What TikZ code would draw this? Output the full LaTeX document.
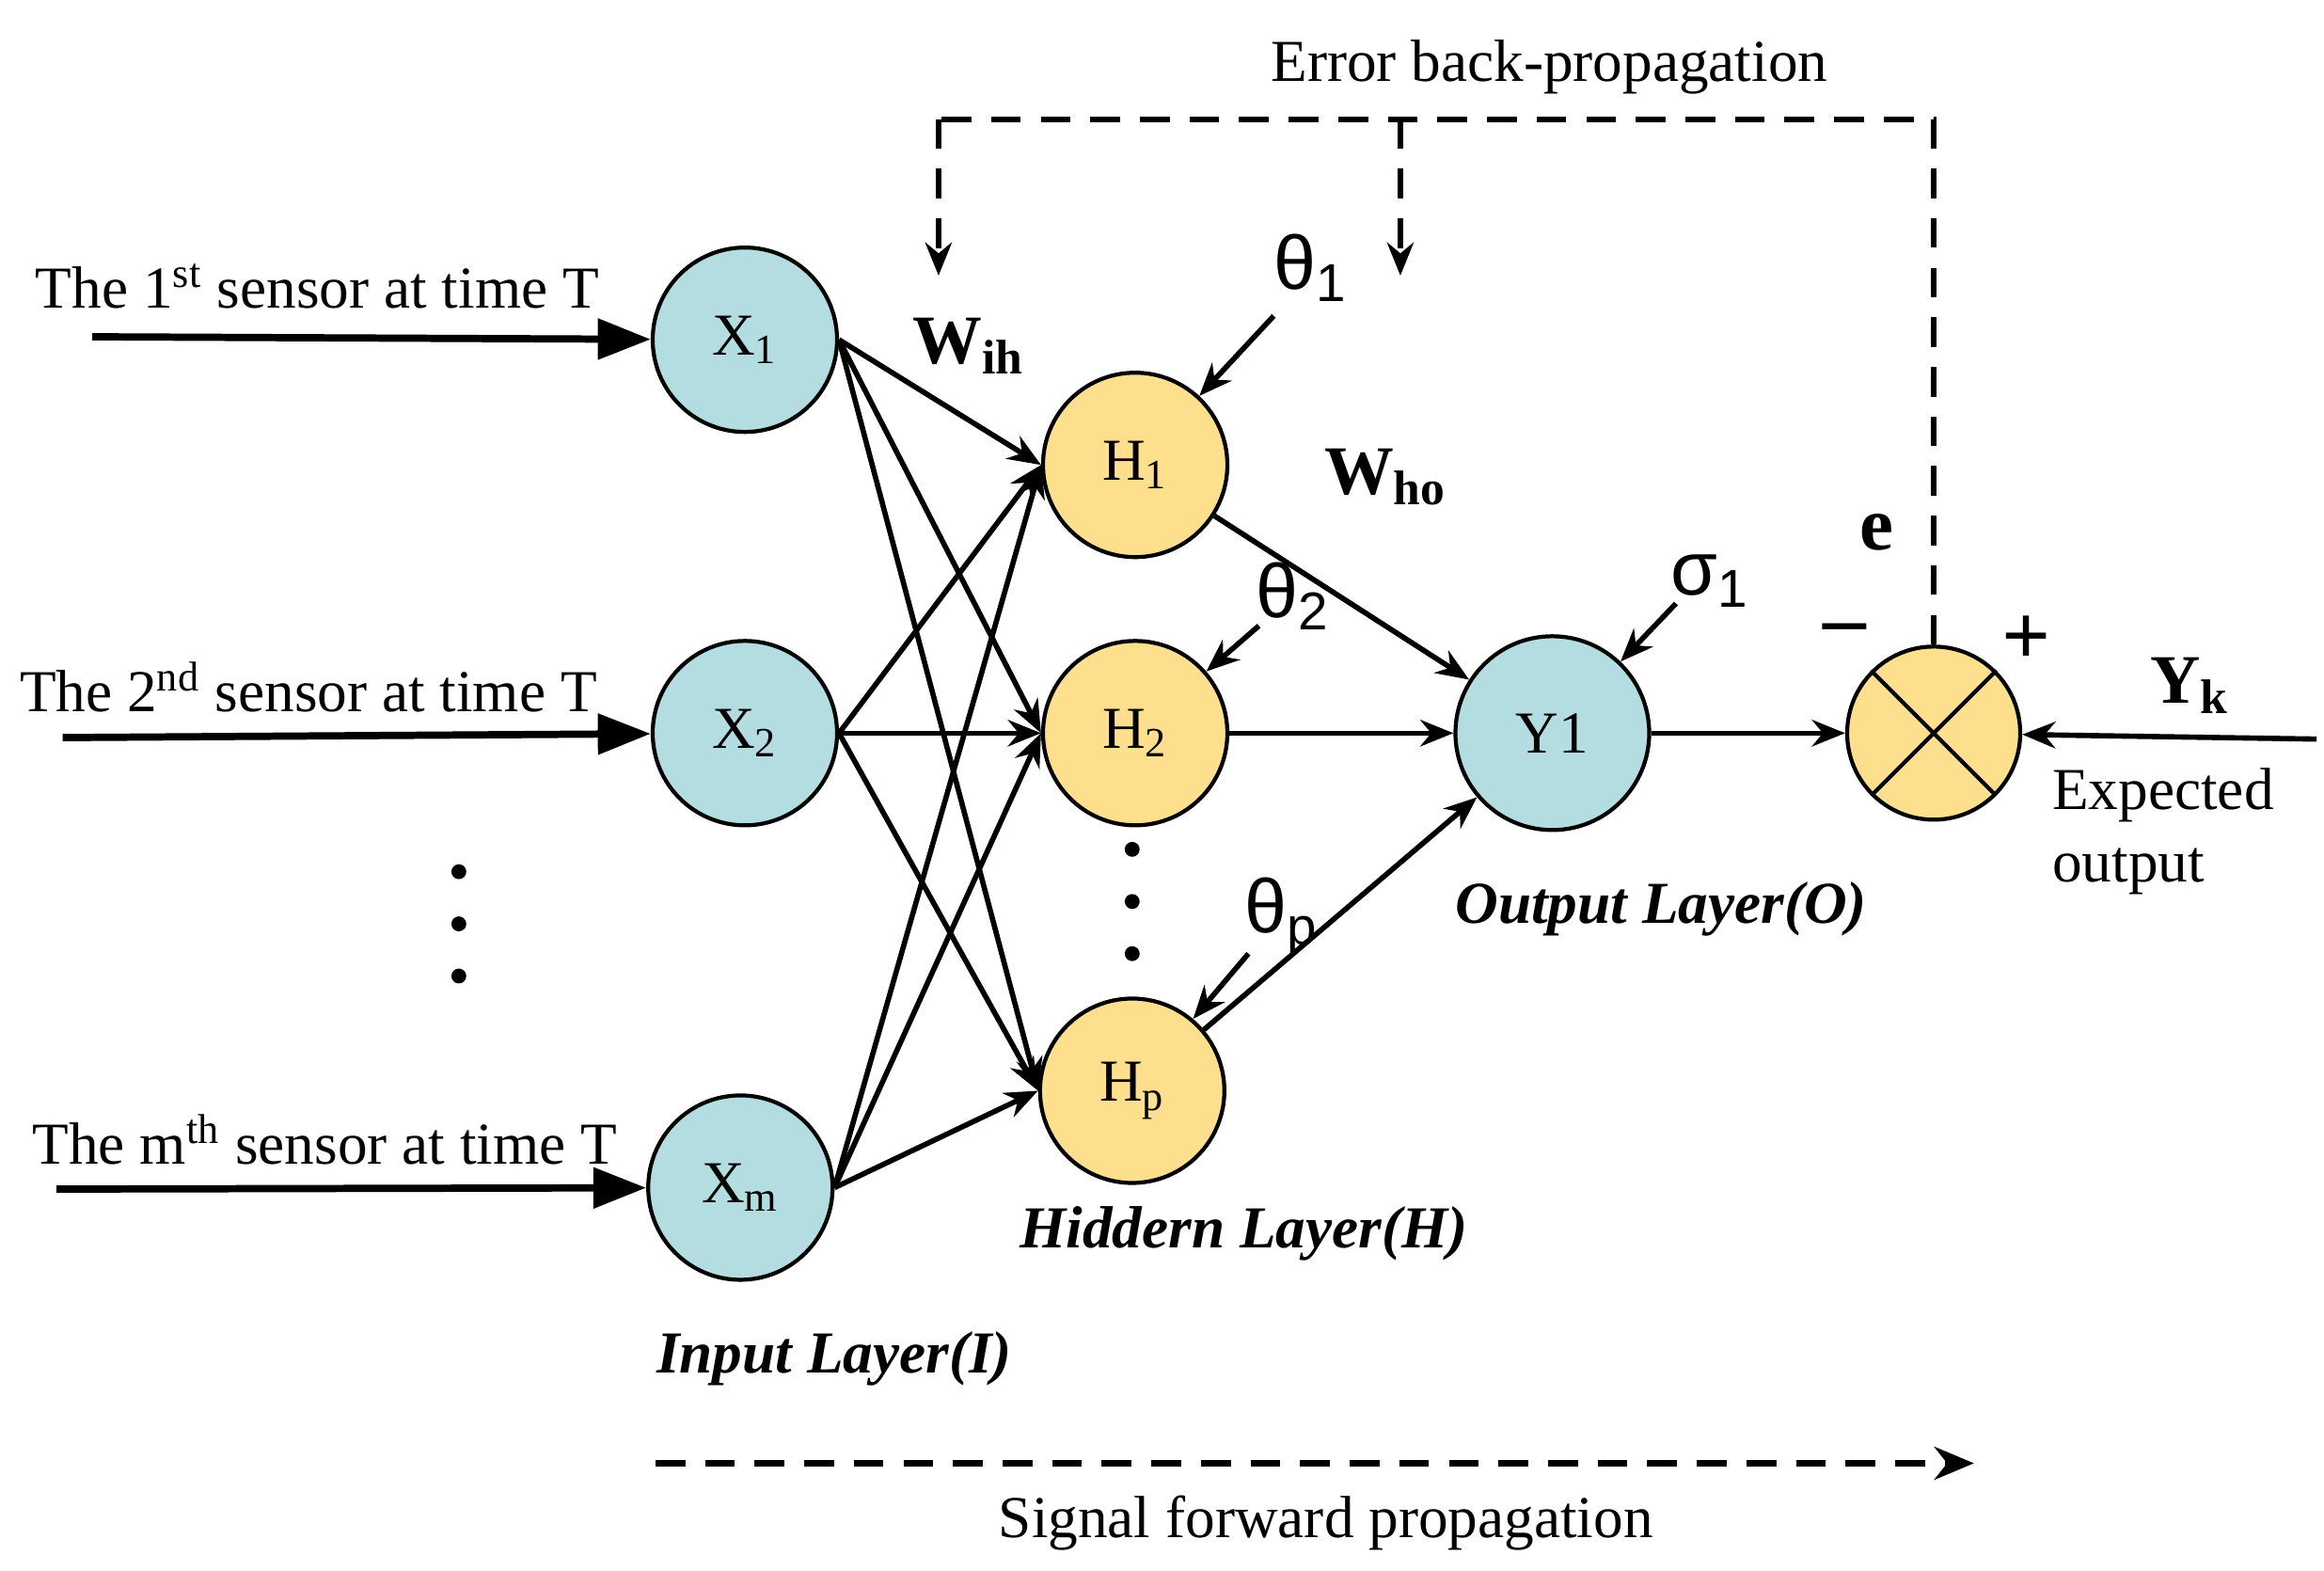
\documentclass[tikz,border=0pt]{standalone}
\usepackage{fontspec}
\setmainfont{Liberation Serif}
\newfontfamily\sansf{Liberation Sans}
\usetikzlibrary{arrows.meta}
\definecolor{cin}{HTML}{B3DDE0}
\definecolor{chid}{HTML}{FDDF8E}
\begin{document}
\begin{tikzpicture}[x=0.01584cm,y=-0.01584cm,
  every node/.style={font=\fontsize{18}{22}\selectfont},
  neu/.style={circle,draw,line width=1.2pt,minimum size=1.96cm,inner sep=0pt},
  inn/.style={neu,fill=cin},
  hid/.style={neu,fill=chid},
  arr/.style={line width=1.6pt,-{Stealth[length=10pt,width=8pt]}},
  big/.style={line width=2.2pt,-{Triangle[length=16pt,width=12pt]}},
  dsh/.style={line width=1.8pt,dash pattern=on 9pt off 6pt},
  lay/.style={font=\fontsize{18}{22}\selectfont\bfseries\itshape},
  gr/.style={font=\fontsize{23}{27}\sansf}]
\useasboundingbox (0,0) rectangle (1560,1054);
\node[inn] (x1) at (500,228) {X\textsubscript{1}};
\node[inn] (x2) at (500,492) {X\textsubscript{2}};
\node[inn] (xm) at (497,797) {X\textsubscript{m}};
\node[hid] (h1) at (762,312) {H\textsubscript{1}};
\node[hid] (h2) at (762,492) {H\textsubscript{2}};
\node[hid] (hp) at (760,732) {H\textsubscript{p}};
\node[inn,minimum size=2.06cm] (y) at (1042,492) {Y1};
\node[hid,minimum size=1.84cm] (s) at (1298,492) {};
\draw[line width=1.2pt] (s.45)--(s.225) (s.135)--(s.315);
% inputs
\coordinate (i1) at (62,226); \coordinate (i2) at (42,495); \coordinate (im) at (38,798);
\draw[big] (i1)--(x1); \draw[big] (i2)--(x2); \draw[big] (im)--(xm);
\node (t1) at (213,192) {The 1\textsuperscript{st} sensor at time T};
\node (t2) at (207,461) {The 2\textsuperscript{nd} sensor at time T};
\node (t3) at (218,765) {The m\textsuperscript{th} sensor at time T};
\foreach \a in {x1,x2,xm}\foreach \b in {h1,h2,hp}\draw[arr] (\a.east)--(\b.west);
\foreach \a in {h1,h2,hp}\draw[arr] (\a)--(y);
\draw[arr] (y)--(s);
\coordinate (yk) at (1555,496);
\draw[arr] (yk)--(s);
\foreach \yy in {585,620,655}{\fill (308,\yy) circle (5);}
\foreach \yy in {570,605,640}{\fill (760,\yy) circle (5);}
\node[gr] (th1) at (880,180) {θ\textsubscript{1}};
\node[gr] (th2) at (868,400) {θ\textsubscript{2}};
\node[gr] (thp) at (860,615) {θ\textsubscript{p}};
\node[gr] (sg) at (1148,390) {σ\textsubscript{1}};
\coordinate (a1) at (855,212); \coordinate (a2) at (845,420);
\coordinate (a3) at (838,640); \coordinate (a4) at (1125,405);
\draw[arr] (a1)--(h1); \draw[arr] (a2)--(h2); \draw[arr] (a3)--(hp); \draw[arr] (a4)--(y);
\node[font=\fontsize{21}{25}\selectfont\bfseries] (wih) at (650,232) {W\textsubscript{ih}};
\node[font=\fontsize{21}{25}\selectfont\bfseries] (who) at (930,320) {W\textsubscript{ho}};
\node[font=\fontsize{23}{27}\selectfont\bfseries] (e) at (1260,357) {e};
\node[font=\fontsize{26}{28}\selectfont\bfseries] (mi) at (1238,426) {--};
\node[font=\fontsize{26}{28}\selectfont\bfseries] (pl) at (1360,430) {+};
\node[font=\fontsize{21}{25}\selectfont\bfseries] (yl) at (1470,460) {Y\textsubscript{k}};
\node[align=left,font=\fontsize{18}{22}\selectfont] (ex) at (1452,558) {Expected\\output};
% feedback
\coordinate (c1) at (1298,80); \coordinate (c2) at (630,80); \coordinate (c3) at (630,185);
\coordinate (c4) at (940,80); \coordinate (c5) at (940,185);
\draw[dsh] (s.north)--(c1)--(c2);
\draw[dsh,-{Stealth[length=10pt,width=8pt]}] (c2)--(c3);
\draw[dsh,-{Stealth[length=10pt,width=8pt]}] (c4)--(c5);
\node (eb) at (1040,45) {Error back-propagation};
\coordinate (f1) at (440,982); \coordinate (f2) at (1325,982);
\draw[dsh,-{Stealth[length=12pt,width=10pt]}] (f1)--(f2);
\node (sf) at (890,1022) {Signal forward propagation};
\node[lay] (lh) at (835,828) {Hiddern Layer(H)};
\node[lay] (li) at (560,912) {Input Layer(I)};
\node[lay] (lo) at (1115,610) {Output Layer(O)};
\end{tikzpicture}
\end{document}
